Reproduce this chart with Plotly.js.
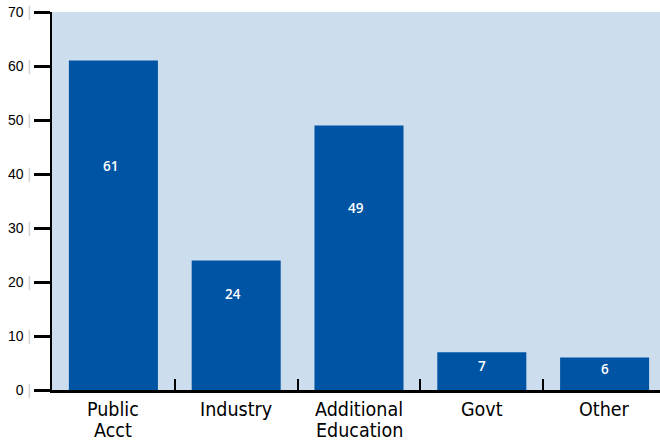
<!DOCTYPE html>
<html>
<head>
<meta charset="utf-8">
<script src="https://cdn.plot.ly/plotly-3.0.1.min.js"></script>
<style>html,body{margin:0;padding:0;background:#fff;overflow:hidden;width:660px;height:441px;}#chart{width:666px;height:441px;}</style>
</head>
<body>
<div id="chart"></div>
<script>
const categories = ["Public Acct", "Industry", "Additional Education", "Govt", "Other"];
const labelLines = [["Public", "Acct"], ["Industry"], ["Additional", "Education"], ["Govt"], ["Other"]];
const values = [61, 24, 49, 7, 6];
const yTickValues = [0, 10, 20, 30, 40, 50, 60, 70];

const barColor = "rgb(0,84,164)";
const bgColor = "rgb(204,221,238)";
const fontFam = "'DejaVu Sans Condensed', 'Liberation Sans', sans-serif";

const trace = {
  type: "bar",
  x: categories,
  y: values,
  marker: {color: barColor, line: {width: 0}},
  width: 0.725,
  hoverinfo: "none"
};

const annotations = [];
values.forEach((v, i) => {
  annotations.push({
    x: categories[i],
    y: v >= 20 ? 2.6 + 0.636 * v : 0.64 * v,
    xref: "x", yref: "y",
    xshift: v >= 20 ? -3 : 0,
    text: String(v),
    showarrow: false,
    font: {family: "'Open Sans', 'Liberation Sans', sans-serif", size: 13.5, weight: 600, color: "#ffffff"}
  });
  labelLines[i].forEach((line, j) => {
    annotations.push({
      x: categories[i],
      y: 0,
      xref: "x", yref: "paper",
      yanchor: "top",
      yshift: -6 - 21 * j,
      text: line,
      showarrow: false,
      font: {family: fontFam, size: 19.5, color: "#000"}
    });
  });
});

const layout = {
  width: 666,
  height: 441,
  margin: {l: 52, r: 0, t: 12, b: 51},
  paper_bgcolor: "#ffffff",
  plot_bgcolor: bgColor,
  showlegend: false,
  bargap: 0.27,
  xaxis: {
    type: "category",
    tickson: "boundaries",
    ticks: "inside",
    ticklen: 11,
    tickwidth: 2,
    tickcolor: "#000",
    showticklabels: false,
    showline: true,
    linecolor: "#000",
    linewidth: 3,
    showgrid: false,
    zeroline: false,
    fixedrange: true
  },
  yaxis: {
    range: [0, 70],
    tickvals: yTickValues,
    ticktext: yTickValues.map(t => t + " <span style='color:#cccccc'>|</span>"),
    ticks: "outside",
    ticklen: 16,
    tickwidth: 3,
    tickcolor: "#000",
    showline: true,
    linecolor: "#000",
    linewidth: 2,
    showgrid: false,
    zeroline: false,
    tickfont: {family: "'Liberation Sans', Arial, sans-serif", size: 14, color: "#000"},
    fixedrange: true
  },
  annotations: annotations
};

Plotly.newPlot("chart", [trace], layout, {displayModeBar: false, staticPlot: true});
</script>
</body>
</html>
